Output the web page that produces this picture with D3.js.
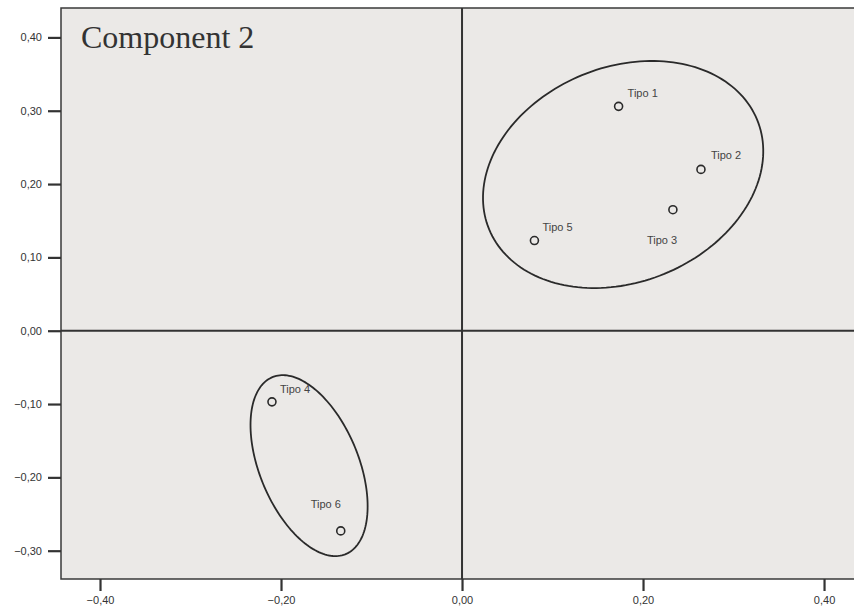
<!DOCTYPE html>
<html>
<head>
<meta charset="utf-8">
<script src="https://cdn.jsdelivr.net/npm/d3@7"></script>
<style>
  html, body { margin: 0; padding: 0; background: #ffffff; }
  svg { display: block; }
</style>
</head>
<body>
<svg id="chart" width="854" height="612"></svg>
<script>
// ---- Data ----
const names   = ["Tipo 1", "Tipo 2", "Tipo 3", "Tipo 4", "Tipo 5", "Tipo 6"];
const xValues = [0.173, 0.264, 0.233, -0.210, 0.080, -0.134];
const yValues = [0.306, 0.220, 0.165, -0.097, 0.123, -0.273];

const xTicks = [-0.40, -0.20, 0.00, 0.20, 0.40];
const yTicks = [-0.30, -0.20, -0.10, 0.00, 0.10, 0.20, 0.30, 0.40];
const titleText = "Component 2";

// Cluster ellipses (data units): centre, semi-axes, rotation (degrees)
const ellipseCx    = [0.178, -0.169];
const ellipseCy    = [0.213, -0.184];
const ellipseA     = [0.170, 0.1276];
const ellipseB     = [0.138, 0.0559];
const ellipseAngle = [45, -73.5];

// ---- Layout / style ----
const W = 854, H = 612;
const plot = { left: 61, top: 8, right: 854, bottom: 579 };
const labelOffset = {
  "Tipo 1": [9, -9, "start"],
  "Tipo 2": [10, -10, "start"],
  "Tipo 3": [-26, 34, "start"],
  "Tipo 4": [8, -9, "start"],
  "Tipo 5": [8, -10, "start"],
  "Tipo 6": [-30, -23, "start"]
};

const svg = d3.select("#chart");
const x = d3.scaleLinear().domain([-0.4431, 0.4331]).range([plot.left, plot.right]);
const y = d3.scaleLinear().domain([0.4401, -0.3386]).range([plot.top, plot.bottom]);
const fmt = v => d3.format(".2f")(v).replace(".", ",").replace("-0,00", "0,00");

// background
svg.append("rect")
  .attr("x", plot.left).attr("y", plot.top)
  .attr("width", plot.right - plot.left).attr("height", plot.bottom - plot.top)
  .attr("fill", "#ebe9e7");

// frame (top, left, bottom)
svg.append("path")
  .attr("d", `M${plot.right},${plot.top}H${plot.left}V${plot.bottom}H${plot.right}`)
  .attr("fill", "none").attr("stroke", "#3a3a3a").attr("stroke-width", 1.5);

// axes
const xAxis = d3.axisBottom(x).tickValues(xTicks).tickFormat(fmt).tickSize(12).tickPadding(5);
const yAxis = d3.axisLeft(y).tickValues(yTicks).tickFormat(fmt).tickSize(13).tickPadding(6);

const gx = svg.append("g").attr("transform", `translate(0,${plot.bottom})`).call(xAxis);
const gy = svg.append("g").attr("transform", `translate(${plot.left},0)`).call(yAxis);
[gx, gy].forEach(g => {
  g.select(".domain").remove();
  g.selectAll(".tick line").attr("stroke", "#333").attr("stroke-width", 2.2);
  g.selectAll(".tick text")
    .attr("fill", "#333")
    .style("font-family", "Liberation Sans, Arial, sans-serif")
    .style("font-size", "11px");
});

// zero reference lines
svg.append("line")
  .attr("x1", x(0)).attr("x2", x(0)).attr("y1", plot.top).attr("y2", plot.bottom)
  .attr("stroke", "#333").attr("stroke-width", 2);
svg.append("line")
  .attr("x1", plot.left).attr("x2", plot.right).attr("y1", y(0)).attr("y2", y(0))
  .attr("stroke", "#333").attr("stroke-width", 2);

// title
svg.append("text")
  .attr("x", 81).attr("y", 48)
  .attr("fill", "#333")
  .style("font-family", "Liberation Serif, Times New Roman, serif")
  .style("font-size", "32px")
  .text(titleText);

// ellipses
const line = d3.line().x(d => x(d[0])).y(d => y(d[1])).curve(d3.curveLinearClosed);
ellipseCx.forEach((cx, i) => {
  const th = ellipseAngle[i] * Math.PI / 180;
  const a = ellipseA[i], b = ellipseB[i], cy = ellipseCy[i];
  const pts = d3.range(0, 360, 2).map(deg => {
    const t = deg * Math.PI / 180;
    return [cx + a * Math.cos(th) * Math.cos(t) - b * Math.sin(th) * Math.sin(t),
            cy + a * Math.sin(th) * Math.cos(t) + b * Math.cos(th) * Math.sin(t)];
  });
  svg.append("path").attr("d", line(pts))
    .attr("fill", "none").attr("stroke", "#2a2a2a").attr("stroke-width", 1.8);
});

// points
const data = names.map((n, i) => ({ name: n, x: xValues[i], y: yValues[i] }));
svg.append("g").selectAll("circle").data(data).join("circle")
  .attr("cx", d => x(d.x)).attr("cy", d => y(d.y)).attr("r", 4)
  .attr("fill", "none").attr("stroke", "#2a2a2a").attr("stroke-width", 1.6);

svg.append("g").selectAll("text").data(data).join("text")
  .attr("x", d => x(d.x) + labelOffset[d.name][0])
  .attr("y", d => y(d.y) + labelOffset[d.name][1])
  .attr("text-anchor", d => labelOffset[d.name][2])
  .attr("fill", "#444")
  .style("font-family", "Liberation Sans, Arial, sans-serif")
  .style("font-size", "11px")
  .text(d => d.name);
</script>
</body>
</html>
